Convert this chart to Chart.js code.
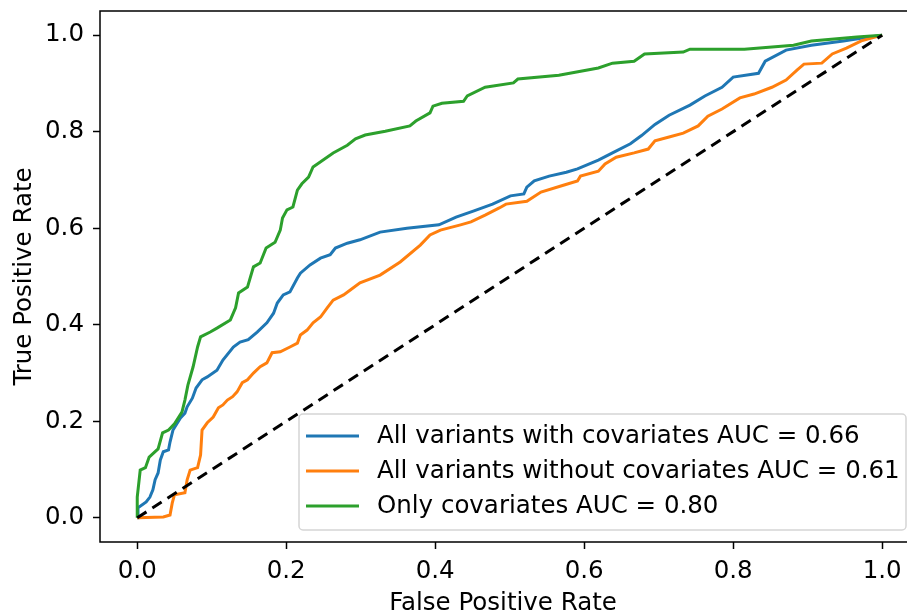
<!DOCTYPE html>
<html lang="en">
<head>
    <meta charset="UTF-8">
    <title>ROC curves</title>
<script src="https://cdn.jsdelivr.net/npm/chart.js@4.4.1/dist/chart.umd.min.js"></script>
<style>
    html, body { margin: 0; padding: 0; overflow: hidden; background: #fff; }
</style>
</head>
<body>
    <canvas id="chart" width="907" height="615"></canvas>

<script>
    // false positive rate / true positive rate pairs for each model
    var fprWith = [0, 0.001, 0.012, 0.017, 0.021, 0.024, 0.028, 0.031, 0.035, 0.042, 0.044, 0.048, 0.058, 0.064, 0.067, 0.074, 0.079, 0.087, 0.094, 0.107, 0.115, 0.129, 0.138, 0.149, 0.161, 0.174, 0.183, 0.188, 0.196, 0.205, 0.215, 0.219, 0.232, 0.246, 0.259, 0.266, 0.282, 0.299, 0.326, 0.362, 0.405, 0.428, 0.452, 0.477, 0.501, 0.519, 0.523, 0.533, 0.553, 0.576, 0.591, 0.619, 0.638, 0.662, 0.677, 0.695, 0.714, 0.742, 0.762, 0.785, 0.800, 0.834, 0.843, 0.871, 0.905, 0.948, 1];
    var tprWith = [0, 0.021, 0.033, 0.043, 0.058, 0.079, 0.093, 0.120, 0.137, 0.141, 0.157, 0.182, 0.207, 0.217, 0.230, 0.248, 0.269, 0.286, 0.292, 0.306, 0.327, 0.354, 0.364, 0.369, 0.385, 0.404, 0.424, 0.445, 0.462, 0.468, 0.497, 0.507, 0.524, 0.538, 0.545, 0.559, 0.569, 0.576, 0.592, 0.600, 0.607, 0.623, 0.636, 0.650, 0.667, 0.671, 0.685, 0.698, 0.708, 0.716, 0.723, 0.741, 0.756, 0.775, 0.792, 0.815, 0.834, 0.855, 0.874, 0.892, 0.913, 0.921, 0.946, 0.969, 0.979, 0.988, 1];

    var fprWithout = [0, 0.035, 0.044, 0.047, 0.050, 0.064, 0.067, 0.071, 0.081, 0.085, 0.087, 0.094, 0.102, 0.109, 0.115, 0.121, 0.128, 0.134, 0.141, 0.148, 0.156, 0.165, 0.174, 0.181, 0.192, 0.205, 0.215, 0.219, 0.228, 0.236, 0.246, 0.255, 0.263, 0.277, 0.286, 0.299, 0.326, 0.353, 0.380, 0.393, 0.407, 0.434, 0.448, 0.467, 0.486, 0.495, 0.523, 0.542, 0.572, 0.591, 0.595, 0.619, 0.628, 0.643, 0.667, 0.686, 0.695, 0.714, 0.733, 0.753, 0.766, 0.785, 0.809, 0.828, 0.852, 0.871, 0.886, 0.895, 0.919, 0.933, 0.952, 0.972, 1];
    var tprWithout = [0, 0.002, 0.006, 0.031, 0.048, 0.052, 0.079, 0.099, 0.104, 0.130, 0.182, 0.197, 0.209, 0.228, 0.234, 0.244, 0.251, 0.261, 0.280, 0.286, 0.300, 0.313, 0.321, 0.342, 0.344, 0.354, 0.362, 0.379, 0.389, 0.404, 0.416, 0.435, 0.451, 0.462, 0.472, 0.487, 0.503, 0.530, 0.565, 0.586, 0.596, 0.607, 0.613, 0.627, 0.642, 0.650, 0.656, 0.675, 0.689, 0.698, 0.708, 0.718, 0.733, 0.747, 0.756, 0.764, 0.781, 0.789, 0.797, 0.812, 0.832, 0.847, 0.870, 0.878, 0.892, 0.907, 0.928, 0.940, 0.942, 0.961, 0.973, 0.988, 1];

    var fprOnly = [0, 0, 0.004, 0.011, 0.016, 0.028, 0.034, 0.042, 0.050, 0.060, 0.064, 0.068, 0.075, 0.081, 0.085, 0.098, 0.107, 0.125, 0.132, 0.136, 0.148, 0.156, 0.165, 0.173, 0.185, 0.192, 0.195, 0.201, 0.209, 0.215, 0.221, 0.230, 0.236, 0.263, 0.282, 0.293, 0.306, 0.333, 0.366, 0.374, 0.393, 0.397, 0.409, 0.438, 0.443, 0.467, 0.505, 0.511, 0.566, 0.619, 0.638, 0.667, 0.681, 0.733, 0.742, 0.815, 0.881, 0.905, 0.966, 1];
    var tprOnly = [0, 0.043, 0.099, 0.104, 0.126, 0.143, 0.176, 0.182, 0.195, 0.219, 0.244, 0.275, 0.313, 0.354, 0.375, 0.385, 0.393, 0.410, 0.435, 0.466, 0.478, 0.520, 0.528, 0.559, 0.571, 0.596, 0.621, 0.638, 0.644, 0.679, 0.692, 0.706, 0.727, 0.756, 0.772, 0.785, 0.793, 0.801, 0.812, 0.822, 0.839, 0.853, 0.859, 0.863, 0.874, 0.892, 0.901, 0.909, 0.917, 0.932, 0.942, 0.946, 0.961, 0.965, 0.971, 0.971, 0.979, 0.988, 0.996, 1];

    var chanceLine = [0, 1];
    var tickValues = [0, 0.2, 0.4, 0.6, 0.8, 1.0];
    // the axes run a little past the right edge of the figure
    var xRange = [-0.05, 1.032];
    var yRange = [-0.05, 1.05];

    var labels = ['All variants with covariates AUC = 0.66', 'All variants without covariates AUC = 0.61', 'Only covariates AUC = 0.80'];
    var colors = ['#1f77b4', '#ff7f0e', '#2ca02c'];

function pairs(xs, ys) {
    return xs.map(function (x, i) { return {x: x, y: ys[i]}; });
}

var FONT = '"DejaVu Sans", sans-serif';
var FONT_SIZE = 24.5;

// axes frame (open on the right) + legend box in the lower right corner
var framePlugin = {
    id: 'frame',
    afterDraw: function (chart) {
        var ctx = chart.ctx, a = chart.chartArea;
        ctx.save();
        // nothing should show in the strip right of the plot area
        ctx.fillStyle = '#fff';
        ctx.fillRect(a.right - 1, 0, chart.width - a.right + 2, chart.height);

        ctx.strokeStyle = '#000';
        ctx.lineWidth = 1.5;
        ctx.beginPath();
        ctx.moveTo(chart.width + 2, a.top);
        ctx.lineTo(a.left, a.top);
        ctx.lineTo(a.left, a.bottom);
        ctx.lineTo(chart.width + 2, a.bottom);
        ctx.stroke();

        var boxW = 607, boxH = 116;
        var bx = a.right - boxW, by = a.bottom - 12 - boxH;
        ctx.beginPath();
        ctx.roundRect(bx, by, boxW, boxH, 4);
        ctx.fillStyle = 'rgba(255,255,255,0.8)';
        ctx.fill();
        ctx.strokeStyle = '#d5d5d5';
        ctx.lineWidth = 1.5;
        ctx.stroke();

        ctx.font = FONT_SIZE + 'px ' + FONT;
        ctx.textBaseline = 'middle';
        ctx.lineWidth = 3;
        labels.forEach(function (label, i) {
            var y = by + 22 + i * 35;
            ctx.strokeStyle = colors[i];
            ctx.beginPath();
            ctx.moveTo(bx + 7, y);
            ctx.lineTo(bx + 60, y);
            ctx.stroke();
            ctx.fillStyle = '#000';
            ctx.fillText(label, bx + 78, y + 1);
        });
        ctx.restore();
    }
};

function axis(title, isX) {
    var range = isX ? xRange : yRange;
    return {
        type: 'linear',
        min: range[0],
        max: range[1],
        afterBuildTicks: function (scale) {
            scale.ticks = tickValues.map(function (v) { return {value: v}; });
        },
        afterFit: function (scale) {
            if (isX) {
                scale.height = 73;
                scale.paddingLeft = 0;
                scale.paddingRight = 0;
            } else {
                scale.width = 100;
                scale.paddingTop = 0;
                scale.paddingBottom = 0;
            }
        },
        border: {display: false},
        grid: {
            drawOnChartArea: false,
            drawTicks: true,
            tickLength: 7,
            tickColor: '#000',
            tickWidth: 1.5
        },
        ticks: {
            color: '#000',
            font: {family: FONT, size: FONT_SIZE},
            padding: isX ? 8 : 9,
            maxRotation: 0,
            callback: function (v) { return Number(v).toFixed(1); }
        },
        title: {
            display: true,
            text: title,
            color: '#000',
            font: {family: FONT, size: FONT_SIZE},
            padding: isX ? {top: 0, bottom: -3} : {top: 10, bottom: 0}
        }
    };
}

var ctx = document.getElementById('chart').getContext('2d');
var myChart = new Chart(ctx, {
    type: 'line',
    data: {
        datasets: [
            {data: pairs(chanceLine, chanceLine), borderColor: '#000', borderWidth: 3, borderDash: [11, 7], order: 0},
            {data: pairs(fprOnly, tprOnly), borderColor: colors[2], borderWidth: 3, order: 1},
            {data: pairs(fprWithout, tprWithout), borderColor: colors[1], borderWidth: 3, order: 2},
            {data: pairs(fprWith, tprWith), borderColor: colors[0], borderWidth: 3, order: 3}
        ]
    },
    options: {
        responsive: false,
        animation: false,
        parsing: false,
        elements: {point: {radius: 0}, line: {tension: 0, borderCapStyle: 'butt'}},
        layout: {autoPadding: false, padding: {top: 11, right: 1, left: 0, bottom: 0}},
        plugins: {legend: {display: false}, tooltip: {enabled: false}},
        scales: {
            x: axis('False Positive Rate', true),
            y: axis('True Positive Rate', false)
        }
    },
    plugins: [framePlugin]
});
</script>
</body>
</html>
